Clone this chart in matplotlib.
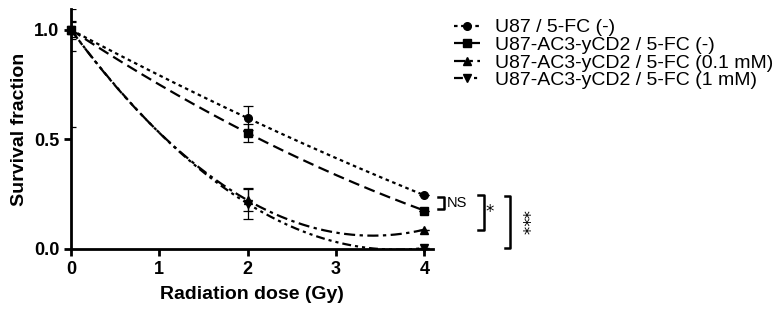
import numpy as np
import matplotlib
matplotlib.use("Agg")
import matplotlib.pyplot as plt
from matplotlib.lines import Line2D

plt.rcParams['font.family'] = ['Liberation Sans', 'DejaVu Sans']

doses = [0, 2, 4]
labels = ["U87 / 5-FC (-)", "U87-AC3-yCD2 / 5-FC (-)",
          "U87-AC3-yCD2 / 5-FC (0.1 mM)", "U87-AC3-yCD2 / 5-FC (1 mM)"]
u87 = [1.0, 0.597, 0.245]
ac3 = [1.0, 0.529, 0.175]
fc01 = [1.0, 0.222, 0.088]
fc1 = [1.0, 0.207, 0.004]
u87_err = [0.04, 0.055, 0.0]
ac3_err = [0.035, 0.042, 0.0]
fc01_err = [0.095, 0.05, 0.0]
fc1_err = [0.445, 0.07, 0.0]
sig_labels = ["NS", "*", "***"]

series = [u87, ac3, fc01, fc1]
errs = [u87_err, ac3_err, fc01_err, fc1_err]
markers = ['o', 's', '^', 'v']
styles = [(0, (1.6, 1.6)), (0, (5, 2.5)), (0, (5, 2, 1.5, 2)), (0, (4, 1.8, 1.4, 1.8, 1.4, 1.8))]

fig = plt.figure(figsize=(7.83, 3.10), dpi=100)
ax = fig.add_axes([0.0907, 0.197, 0.4625, 0.774])

xs = np.linspace(0, 4, 300)
for vals, err, m, ls in zip(series, errs, markers, styles):
    coef = np.polyfit(doses, vals, 2)
    ax.plot(xs, np.polyval(coef, xs), color='black', lw=1.6, linestyle=ls)
    ax.errorbar(doses, vals, yerr=err, fmt='none', ecolor='black', elinewidth=0.9,
                capsize=3.5, capthick=0.9)
    ax.plot(doses, vals, linestyle='none', marker=m, color='black', markersize=5.5,
            clip_on=False, zorder=5)

ax.set_xlim(0, 4.1)
ax.set_ylim(0, 1.095)
ax.set_xticks([0, 1, 2, 3, 4])
ax.set_yticks([0, 0.5, 1.0])
ax.set_yticklabels(["0.0", "0.5", "1.0"])
for s in ['top', 'right']:
    ax.spines[s].set_visible(False)
for s in ['left', 'bottom']:
    ax.spines[s].set_linewidth(2.0)
ax.tick_params(width=2.0, length=5, labelsize=13)
for lab in ax.get_xticklabels() + ax.get_yticklabels():
    lab.set_fontweight('bold')
ax.set_xlabel("Radiation dose (Gy)", fontsize=14, fontweight='bold', labelpad=6)
ax.set_ylabel("Survival fraction", fontsize=14, fontweight='bold', labelpad=4)

# significance brackets
def bracket(x_right, y_top, y_bot, text, text_x, fs, rot=0, family=None):
    w = 0.065
    ax.plot([x_right - w, x_right, x_right, x_right - w],
            [y_top, y_top, y_bot, y_bot], color='black', lw=1.8, clip_on=False)
    kw = {} if family is None else {'family': family}
    ax.text(text_x, (y_top + y_bot) / 2, text, fontsize=fs,
            va='center', ha='left', rotation=rot, clip_on=False, **kw)

bracket(4.22, u87[2] - 0.008, ac3[2] + 0.007, sig_labels[0], 4.25, 10.5)
bracket(4.67, u87[2], fc01[2], sig_labels[1], 4.69, 12, family='DejaVu Sans')
bracket(4.975, u87[2] - 0.004, fc1[2], sig_labels[2], 4.995, 12, rot=-90, family='DejaVu Sans')

handles = [Line2D([0], [0], color='black', lw=1.6, linestyle=ls, marker=m, markersize=5.5)
           for m, ls in zip(markers, styles)]
fig.legend(handles, labels, loc='upper left', bbox_to_anchor=(0.558, 0.996),
           frameon=False, fontsize=14, handlelength=1.3, handletextpad=0.8,
           labelspacing=0.0)

fig.savefig("out.png", dpi=100)
